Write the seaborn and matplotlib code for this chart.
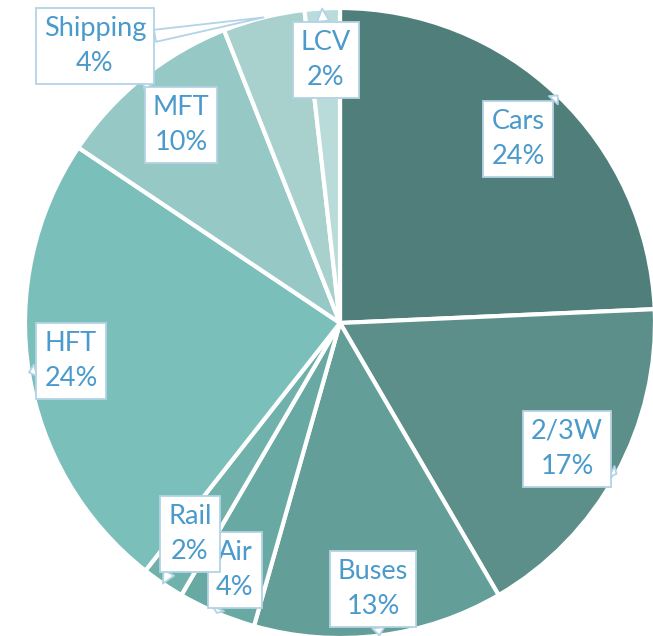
import numpy as np
import matplotlib
matplotlib.use('Agg')
import matplotlib.pyplot as plt
import seaborn as sns

# Data
segments = ["Cars", "2/3W", "Buses", "Air", "Rail", "HFT", "MFT", "Shipping", "LCV"]
shares   = [24.3, 17.3, 12.8, 4.0, 2.2, 23.8, 9.6, 4.2, 1.8]
pct_text = ["24%", "17%", "13%", "4%", "2%", "24%", "10%", "4%", "2%"]

colors = ["#507F7B", "#5C8F8A", "#639E98", "#69A9A3", "#70B1AB",
          "#7BBFBA", "#96C8C5", "#A8D1CE", "#B9DBDA"]

# callout box centres in pixels (layout only)
box_px = [(518, 139), (567, 449), (373, 589), (235, 570), (190, 534),
          (71, 361), (181, 125), (95, 46), (326, 60)]

W, H = 653, 636
cx, cy, R = 340, 323, 315

sns.set_theme(style="white")
plt.rcParams['font.family'] = ['Lato', 'DejaVu Sans']

fig = plt.figure(figsize=(W / 100, H / 100), dpi=100)
ax = fig.add_axes([0, 0, 1, 1])

wedges, _ = ax.pie(
    shares,
    colors=colors,
    startangle=90,
    counterclock=False,
    radius=1,
    wedgeprops=dict(edgecolor="white", linewidth=3),
)

ax.set_xlim(-cx / R, (W - cx) / R)
ax.set_ylim((cy - H) / R, cy / R)
ax.set_aspect("equal")
ax.axis("off")

text_col = "#4A9ACB"
edge_col = "#B3D3E6"

for w, name, pct, (bx, by) in zip(wedges, segments, pct_text, box_px):
    mid = np.deg2rad((w.theta1 + w.theta2) / 2)
    tip = (np.cos(mid), np.sin(mid))
    pos = ((bx - cx) / R, (cy - by) / R)
    ax.annotate(
        f"{name}\n{pct}",
        xy=tip,
        xytext=pos,
        ha="center", va="center",
        fontsize=19.5, color=text_col,
        linespacing=1.5,
        bbox=dict(boxstyle="square,pad=0.3", fc="white",
                  ec=edge_col, lw=1.3),
        arrowprops=dict(arrowstyle="wedge,tail_width=0.45,shrink_factor=0.5",
                        fc="white", ec=edge_col, lw=1.3,
                        shrinkA=0, shrinkB=0),
    )

fig.savefig("out.png", dpi=100)
plt.close()
